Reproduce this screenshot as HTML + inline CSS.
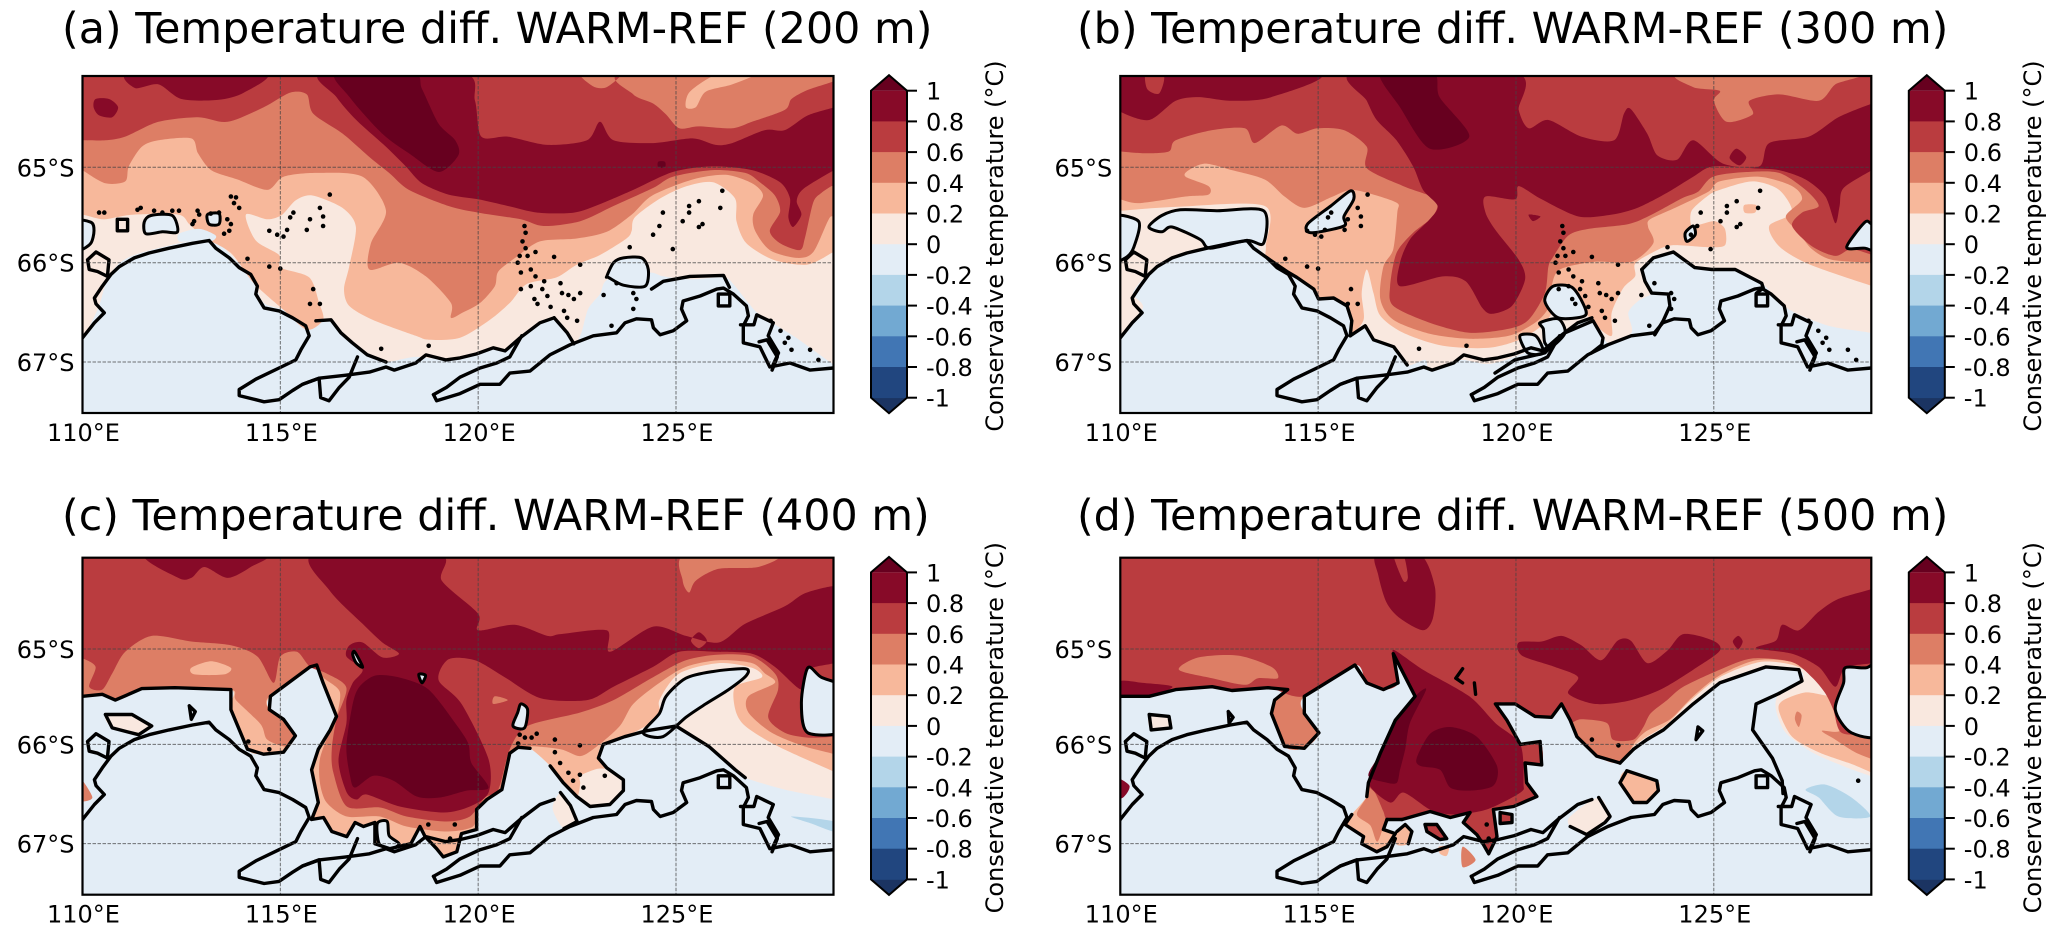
<!DOCTYPE html>
<html lang="en">
<head>
<meta charset="utf-8">
<title>Temperature difference WARM-REF</title>
<style>
html,body{margin:0;padding:0;background:#fff}
svg{display:block}
text{font-family:"DejaVu Sans","Liberation Sans",sans-serif;fill:#000}
.title{font-size:42.8px}
.tick{font-size:24px}
</style>
</head>
<body>
<svg id="fig" xmlns="http://www.w3.org/2000/svg" width="2067" height="937" viewBox="0 0 2067 937">
<rect width="2067" height="937" fill="#fff"/>
<g id="panel-a" transform="translate(0,0)"><text class="title" x="62" y="43">(a) Temperature diff. WARM-REF (200 m)</text></g>
<g id="panel-b" transform="translate(1037.8,0)"><text class="title" x="39.2" y="43">(b) Temperature diff. WARM-REF (300 m)</text></g>
<g id="panel-c" transform="translate(0,481.7)"><text class="title" x="62" y="48.3">(c) Temperature diff. WARM-REF (400 m)</text></g>
<g id="panel-d" transform="translate(1037.8,481.7)"><text class="title" x="39.2" y="48.3">(d) Temperature diff. WARM-REF (500 m)</text></g>
</svg>
<script>
// Axis tick values
const lonTicks = [110,115,120,125];
const latTicks = [65,66,67];
const cbTicks = [1,0.8,0.6,0.4,0.2,0,-0.2,-0.4,-0.6,-0.8,-1];
const cbLabels = ['1','0.8','0.6','0.4','0.2','0','-0.2','-0.4','-0.6','-0.8','-1'];
const cbColors = ['#870a28','#ba3c3f','#dd7e65','#f7b89b','#f9e8df','#e3edf6','#b3d5e9','#72a9d2','#4176b4','#21467f'];
const bandColors = {neg:'#b3d5e9',ge00:'#f9e8df',ge02:'#f7b89b',ge04:'#dd7e65',ge06:'#ba3c3f',ge08:'#870a28',ge10:'#67001f'};
const oceanBase = '#e3edf6';
const cbOverColor = '#67001f';
const cbUnderColor = '#1b3462';
const frameTop = [[129.2,63.9],[109.8,63.9]];

// Contour rings: [longitude E, latitude S]
const a_ge00 = [[[109.8,66.85],[110,66.78],[110.4,66.46],[110.67,66.14],[111.25,65.93],[113.08,65.76],[113.75,65.92],[114.33,66.21],[114.58,66.41],[115.08,66.48],[115.75,66.6],[115.9,66.59],[116.28,66.58],[116.53,66.71],[116.82,66.81],[117.2,66.93],[117.67,67],[118.42,66.95],[119.25,66.98],[119.96,66.92],[120.38,66.86],[120.68,66.89],[121.06,66.76],[121.56,66.61],[121.92,66.56],[122.25,66.71],[122.45,66.81],[122.61,66.71],[122.78,66.47],[123.08,66.32],[123.29,66.17],[124.3,66.1],[124.68,66.14],[125.35,66.17],[126.2,66.15],[126.45,66.22],[126.83,66.41],[127.12,66.53],[127.96,66.74],[128.39,66.86],[128.93,67.01],[129.2,67.05],...frameTop]];
const a_ge02 = [[[109.8,65.5],[110,65.5],[110.5,65.55],[110.84,65.53],[111.3,65.5],[112.42,65.5],[112.7,65.6],[113.08,65.74],[113.75,65.9],[114.33,66.21],[115.08,66.48],[115.67,66.68],[116.08,66.58],[115.98,66.41],[115.73,66.15],[115.01,66.05],[114.97,65.92],[114.38,65.77],[114.13,65.5],[114.68,65.55],[115.05,65.5],[115.39,65.35],[115.81,65.3],[116.57,65.43],[116.91,65.63],[116.74,66.04],[116.61,66.27],[116.74,66.44],[117.33,66.58],[118.42,66.74],[118.76,66.78],[119.54,66.76],[120.3,66.58],[120.8,66.41],[121.22,66.22],[121.98,66.15],[122.49,66.02],[123.08,65.92],[123.75,65.75],[123.88,65.67],[123.96,65.53],[124.6,65.33],[125.27,65.2],[125.94,65.16],[126.49,65.33],[126.53,65.57],[126.78,65.8],[127.46,65.97],[128.3,66.02],[128.93,65.9],[129.2,65.8],...frameTop]];
const a_ge04 = [[[109.8,64.95],[110,65.03],[110.58,65.17],[111.08,65.15],[111.17,64.99],[111.5,64.78],[111.92,64.71],[112.75,64.69],[112.92,64.85],[113.25,65.03],[113.92,65.13],[114.67,65.24],[115.08,65.1],[115.92,65.06],[117.08,65.1],[117.67,65.46],[117.29,65.8],[117.25,66.07],[118,66],[118.68,66.14],[119.31,66.41],[119.31,66.56],[119.6,66.51],[120.05,66.41],[120.42,66.24],[120.51,66.09],[120.97,65.94],[121.56,65.78],[122.49,65.75],[123.25,65.68],[123.88,65.5],[124.4,65.3],[125.42,65.13],[126.25,65.08],[126.92,65.17],[127.2,65.3],[126.95,65.5],[127,65.67],[127.37,65.87],[128.05,65.95],[128.47,65.89],[128.89,65.53],[129.2,65.45],...frameTop],[[127.08,63.97],[126.42,64.1],[125.75,64.18],[125.5,64.35],[125.25,64.35],[125.33,64.19],[125.83,64.03],[126.25,63.97]]];
const a_ge06 = [[[109.8,64.72],[110,64.71],[110.58,64.71],[111.08,64.67],[111.92,64.51],[112.92,64.46],[113.67,64.51],[114.58,64.35],[115.25,64.19],[115.67,64.21],[115.83,64.42],[116.58,64.64],[117.25,64.89],[117.75,65.06],[118.25,65.24],[119.25,65.41],[120,65.48],[121.08,65.55],[121.65,65.62],[122.58,65.57],[123.42,65.41],[124.42,65.22],[124.92,65.1],[125.92,65.03],[126.75,65.06],[127.12,65.16],[127.5,65.3],[127.63,65.47],[127.37,65.67],[127.63,65.8],[128.13,65.87],[128.26,65.74],[128.47,65.37],[128.68,65.27],[128.93,65.2],[129.2,65.15],...frameTop],[[122.58,63.97],[122.9,64.12],[123.25,64.13],[123.6,63.97]],[[123.75,63.97],[123.92,64.21],[124.42,64.31],[124.75,64.43],[125.08,64.58],[125.58,64.56],[126.42,64.58],[126.92,64.51],[127.75,64.38],[127.92,64.26],[128.33,64.16],[129,64.06],[129.1,63.97]]];
const a_ge08 = [[[111.25,63.97],[111.33,64.14],[111.92,64.1],[112.5,64.26],[113.42,64.27],[114.08,64.19],[114.58,63.97]],[[110.33,64.26],[110.67,64.26],[110.9,64.35],[110.75,64.46],[110.42,64.44],[110.28,64.35]],[[116.08,63.97],[116.42,64.24],[116.92,64.49],[117.67,64.78],[118.17,64.99],[118.58,65.17],[119.25,65.29],[120,65.34],[120.75,65.41],[121.5,65.48],[122.42,65.48],[123.08,65.39],[123.92,65.24],[124.92,65.05],[125.92,64.99],[126.92,65.03],[127.63,65.16],[127.88,65.33],[127.84,65.53],[127.96,65.63],[128.17,65.5],[128.05,65.36],[128.22,65.23],[129,65.03],[129.2,65],[129.2,64.3],[129,64.35],[128.33,64.44],[127.75,64.6],[127.25,64.6],[126.42,64.74],[126,64.76],[125.42,64.69],[124.42,64.74],[123.42,64.71],[123.08,64.51],[122.75,64.71],[121.75,64.76],[120.75,64.67],[120.08,64.67],[119.92,64.28],[119.58,63.97]]];
const a_ge10 = [[[116.42,63.97],[116.75,64.24],[117.58,64.64],[118.25,64.85],[119,65.05],[119.5,64.87],[119.42,64.71],[119,64.53],[118.58,64.15],[118.33,63.97]],[[124.55,64.94],[124.72,64.94],[124.72,65],[124.55,65]]];
const a_masks = [[[123.25,66.14],[123.42,66],[123.67,65.95],[124.13,65.95],[124.3,66.07],[124.22,66.24],[123.67,66.23],[123.29,66.15]],[[111.56,65.58],[111.73,65.51],[112.27,65.51],[112.4,65.68],[112.02,65.68],[111.6,65.7]],[[109.7,65.57],[110.21,65.58],[110.29,65.67],[110.21,65.8],[109.95,65.87],[109.7,65.87]],[[113.16,65.5],[113.45,65.49],[113.45,65.6],[113.2,65.6]]];
const a_fills = [[[112.44,65.7],[112.95,65.65],[113.37,65.72],[113.24,65.78],[112.7,65.78],[112.44,65.78]]];
const a_lines = [[[110.88,65.55],[111.14,65.55],[111.14,65.67],[110.88,65.67],[110.88,65.55]],[[124.38,66.27],[124.68,66.19],[125.35,66.14],[126.2,66.13],[126.35,66.25]],[[115.9,66.59],[116.28,66.58],[116.53,66.71],[116.82,66.81],[117.2,66.93],[117.67,67]],[[121.92,66.56],[122.25,66.71],[122.42,66.82]]];
const a_dashes = [];

const b_front = [[113.71,65.95],[114.25,66.1],[114.46,66.15],[114.89,66.27],[115.01,66.37],[115.39,66.36],[115.73,66.44],[115.85,66.59],[115.81,66.74]];
const b_ge00 = [[[109.8,66.85],[110,66.78],[110.57,66.46],[110.32,66.31],[110.73,66.11],[111.4,65.93],[113.15,65.76],...b_front,[116.19,66.64],[116.4,66.78],[116.91,66.85],[117.25,67.03],[117.71,66.98],[117.83,67.08],[118.59,66.98],[119.32,67.02],[120.15,66.92],[121.15,66.71],[121.98,66.58],[122.32,66.81],[122.92,66.71],[122.84,66.51],[123.09,66.39],[123.43,66.31],[123.26,66.19],[123.18,66.07],[123.47,65.95],[123.98,65.89],[124.52,66.05],[125.54,66.07],[126.21,66.21],[126.88,66.47],[127.9,66.64],[128.95,66.71],[129.2,66.75],...frameTop]];
const b_ge02 = [[[109.8,65.47],[110,65.46],[111.4,65.42],[113.65,65.41],[113.68,65.83],...b_front,[116.15,66.58],[116.1,66.31],[116.23,66.07],[116.4,66.31],[116.57,66.54],[117.15,66.71],[118.15,66.84],[119.32,66.86],[120.15,66.77],[120.73,66.61],[120.98,66.44],[120.95,66.24],[121.72,66.5],[122.05,66.65],[122.42,66.74],[122.42,66.51],[122.71,66.26],[123.01,66.14],[123.01,66.01],[123.43,65.9],[123.94,65.82],[124.86,65.84],[125.28,65.82],[125.28,65.65],[125.03,65.57],[124.69,65.6],[124.44,65.62],[124.44,65.46],[124.86,65.3],[125.15,65.24],[125.98,65.15],[126.65,65.24],[126.98,65.48],[126.4,65.62],[126.65,65.83],[127.32,66],[128.48,66.17],[129,66.24],[129.2,66.3],...frameTop],[[125.77,65.4],[126.07,65.4],[126.04,65.48],[125.78,65.48]]];
const b_ge04 = [[[109.8,65.3],[110,65.34],[110.48,65.38],[111.65,65.31],[112.23,65.29],[112.23,65.2],[111.65,65.1],[111.73,65.03],[112.15,64.96],[112.82,65.03],[113.65,65.13],[114.15,65.31],[114.65,65.43],[115.32,65.32],[115.82,65.24],[116.4,65.29],[117,65.38],[117,65.48],[116.9,65.86],[116.65,66.04],[116.57,66.37],[116.9,66.58],[117.82,66.72],[118.82,66.77],[119.82,66.74],[120.48,66.61],[120.82,66.46],[120.9,66.24],[121.11,66.07],[121.99,65.99],[122.92,65.99],[123.47,65.8],[123.34,65.63],[123.39,65.55],[124.02,65.43],[124.86,65.26],[125.15,65.15],[126.15,65.1],[126.98,65.2],[127.23,65.34],[126.82,65.52],[127.15,65.69],[127.48,65.86],[127.98,65.97],[129,66],[129.2,66],...frameTop]];
const b_ge06 = [[[109.8,64.81],[110,64.83],[110.65,64.85],[111.23,64.83],[111.4,64.71],[112.32,64.6],[113.15,64.58],[113.4,64.74],[114.07,64.55],[114.48,64.64],[114.98,64.58],[115.65,64.6],[116.23,64.78],[116.23,65.01],[117.15,65.2],[117.98,65.34],[117.9,65.52],[117.4,65.69],[116.98,65.9],[116.82,66.24],[116.9,66.44],[117.82,66.61],[118.82,66.71],[119.82,66.67],[120.32,66.58],[120.73,66.31],[120.82,66.04],[120.94,65.94],[121.32,65.72],[121.83,65.65],[122.84,65.6],[123.43,65.5],[124.19,65.33],[124.6,65.26],[124.98,65.1],[125.82,65.05],[126.65,65.06],[127.32,65.24],[127.65,65.41],[127.23,65.48],[126.98,65.62],[127.48,65.83],[128.07,65.93],[128.48,65.86],[129.1,65.93],[129.2,65.9],...frameTop],[[124.23,63.97],[124.48,64.13],[125.15,64.17],[125,64.28],[125.32,64.51],[125.98,64.43],[125.9,64.28],[126.65,64.21],[127.65,64.28],[128.07,64.1],[128.65,63.97]],[[120.32,65.5],[120.62,65.52],[120.43,65.57]]];
const b_ge08 = [[[109.8,64.3],[110,64.4],[110.73,64.49],[111.4,64.28],[111.98,64.24],[112.82,64.28],[113.82,64.24],[114.98,63.97],[109.8,63.9]],[[110.65,63.97],[110.68,64.15],[110.98,64.2],[111.1,64]],[[115.9,63.97],[116.23,64.28],[116.48,64.49],[116.98,64.71],[117.4,64.99],[117.65,65.24],[118.02,65.41],[117.82,65.55],[117.32,65.76],[117.07,66],[117.07,66.24],[118.15,66.14],[118.73,66.19],[119.15,66.46],[119.4,66.52],[119.9,66.44],[120.23,66.17],[120.07,65.97],[119.48,65.66],[119.23,65.48],[119.23,65.31],[119.98,65.34],[120.07,65.2],[120.65,65.34],[121.58,65.52],[122.42,65.5],[123.07,65.43],[123.82,65.27],[124.48,65.1],[124.98,64.99],[125.98,65.01],[126.65,65.03],[127.32,65.13],[127.82,65.31],[128.07,65.59],[128.18,65.41],[128.28,65.22],[129,65.03],[129.2,65],[129.2,64.3],[129,64.31],[128.15,64.46],[127.4,64.67],[126.4,64.74],[126.15,64.99],[125.23,64.96],[124.48,64.71],[124.07,64.92],[123.57,64.87],[123.32,64.64],[122.9,64.37],[122.73,64.42],[122.48,64.71],[121.65,64.67],[120.82,64.49],[120.32,64.58],[120.07,64.38],[119.98,63.97]],[[125.57,64.8],[125.82,64.89],[125.65,64.98],[125.4,64.9]],[[120.32,65.5],[120.62,65.52],[120.43,65.57]]];
const b_ge10 = [[[116.57,63.97],[117.07,64.35],[117.82,64.8],[118.82,64.67],[118.07,64.24],[117.9,63.97]]];
const b_masks = [[[120.94,66.24],[121.41,66.25],[121.7,66.42],[121.74,66.54],[121.07,66.56],[120.73,66.39]],[[120.61,66.61],[121.07,66.57],[121.24,66.71],[120.9,66.85],[120.73,66.81],[120.69,66.67]],[[120.1,66.74],[120.5,66.74],[120.69,66.91],[120.3,66.91]],[[115.82,65.25],[115.9,65.34],[115.65,65.52],[115.65,65.62],[114.82,65.69],[114.73,65.6],[115.32,65.41]],[[110.72,65.63],[111.05,65.51],[111.52,65.45],[112.44,65.46],[113.62,65.46],[113.62,65.8],[113.2,65.77],[112.27,65.85],[112.02,65.76],[111.31,65.63],[111.05,65.68]],[[109.7,65.53],[110.46,65.57],[110.34,65.84],[110.13,65.95],[109.7,65.99]],[[128.36,65.84],[128.82,65.58],[129,65.6],[129.3,65.6],[129.3,65.9],[128.82,65.85]],[[124.48,65.62],[124.53,65.71],[124.32,65.78],[124.28,65.69]]];
const b_fills = [];
const b_lines = [b_front,[[123.18,66.07],[123.47,65.95],[123.98,65.89],[124.52,66.05],[124.95,66.07],[125.54,66.07],[126.21,66.21],[126.25,66.26],[126.08,66.31]],[[123.18,66.07],[123.26,66.19],[123.43,66.31],[123.85,66.32],[123.89,66.44],[123.72,66.59],[123.51,66.73]],[[119.47,67.11],[119.97,66.98],[120.73,66.91],[121.24,66.71],[121.95,66.59],[122.2,66.76],[122.17,66.83],[121.91,66.91]],[[115.81,66.74],[116.19,66.64],[116.4,66.78],[116.91,66.85],[117.25,67.03]]];
const b_dashes = [];

const c_frontWest = [[110,65.5],[110.5,65.48],[110.83,65.54],[111.5,65.42],[112.33,65.41],[113.75,65.43],[113.75,65.64],[114.17,66.05],[114.58,66.1],[115.08,66.08],[115.38,65.91],[115.08,65.74],[114.72,65.64],[114.75,65.5],[115.75,65.19],[115.92,65.17],[116.08,65.36],[116.42,65.71],[116.26,65.85],[115.96,66.05],[115.79,66.26],[115.96,66.59],[115.79,66.76],[116.09,66.74],[116.3,66.88],[116.68,66.93],[116.89,66.79],[117.1,66.83],[117.39,66.79],[117.39,67],[117.77,67.05],[118.3,67],[118.53,66.83],[118.66,66.93],[118.95,67.05],[119.12,67.13],[119.46,67.08],[119.58,66.9],[119.96,66.86],[119.96,66.66],[120.22,66.56],[120.6,66.46],[120.8,66.09],[121.01,66.03],[121.31,66.04]];
const c_frontEast = [[121.82,66.22],[122.15,66.39],[122.49,66.53],[122.83,66.63],[123.33,66.61],[123.67,66.47],[123.67,66.36],[123.25,66.24],[123.04,66.14],[123.16,66],[123.7,65.92],[124.25,65.86],[125,65.81],[125.83,66.02],[126.5,66.26],[126.75,66.34]];
const c_ge00 = [[[109.8,65.55],...c_frontWest,...c_frontEast,[127.75,66.46],[129,66.56],[129.2,66.6],...frameTop],[[110.58,65.69],[111.25,65.69],[111.75,65.81],[111.42,65.9],[110.75,65.83]],[[122.08,66.49],[122.33,66.62],[122.5,66.78],[122.17,66.85],[121.88,66.65]]];
const c_ge02 = [[[109.8,65.55],...c_frontWest,[121.82,66.22],[122.15,66.39],[122.49,66.53],[122.58,66.4],[122.58,66.32],[123,66.25],[123.25,66.24],[123.04,66.14],[123.16,66],[123.92,65.88],[124.58,65.71],[124.58,65.54],[125.08,65.26],[126.08,65.15],[126.92,65.2],[127.17,65.3],[126.5,65.4],[126.5,65.64],[126.75,65.81],[127.58,66.02],[129,66.28],[129.2,66.32],...frameTop]];
const c_ge04 = [[[109.8,65.55],[110,65.5],[110.5,65.48],[110.83,65.54],[111.5,65.42],[112.33,65.41],[113.75,65.43],[113.88,65.54],[114.5,65.79],[114.67,65.95],[115.17,66.02],[115.33,65.88],[115.08,65.74],[114.72,65.64],[114.72,65.5],[115.75,65.19],[115.92,65.17],[116.08,65.3],[116.5,65.45],[116.42,65.71],[116.26,65.85],[116,66.15],[116,66.39],[116.17,66.59],[116.68,66.73],[117.52,66.73],[118.19,66.83],[119.2,66.88],[119.87,66.83],[119.96,66.66],[120.17,66.56],[120.6,66.46],[120.8,66.09],[121.25,66.02],[122.08,66.05],[122.58,66.12],[123,66.02],[123.58,65.81],[123.92,65.58],[124.58,65.36],[125.25,65.19],[126.08,65.12],[126.92,65.15],[127.25,65.26],[127.5,65.36],[126.83,65.5],[126.83,65.67],[127.42,65.88],[128.25,66.02],[129,66.1],[129.2,66.15],...frameTop],[[112.75,65.2],[113.25,65.13],[113.75,65.2],[113.58,65.27],[112.83,65.27]],[[109.8,66.28],[110.25,66.54],[109.8,66.56]]];
const c_ge06 = [[[109.8,65.1],[110,65.1],[110.33,65.19],[110.17,65.4],[110.5,65.43],[110.75,65.26],[111.08,65.03],[111.75,64.86],[112.75,64.92],[113.75,64.96],[114.42,65.08],[114.83,65.36],[115,65.08],[115.42,65.03],[115.75,65.19],[116.17,65.26],[116.67,65.41],[116.42,65.74],[116.3,66.05],[116.34,66.29],[116.68,66.63],[117.52,66.64],[118.19,66.73],[119.2,66.78],[119.79,66.73],[120.17,66.54],[120.51,66.46],[120.8,66.05],[121.25,65.81],[122.58,65.67],[123.42,65.54],[124.42,65.3],[125.25,65.12],[126.08,65.06],[126.92,65.08],[127.5,65.26],[127.58,65.43],[127.33,65.72],[127.75,65.88],[128.33,65.93],[129,65.92],[129.2,65.9],...frameTop],[[125.25,63.97],[125.17,64.26],[125.33,64.39],[125.5,64.26],[126.08,64.13],[127.08,64.11],[127.58,63.97]],[[120.42,65.5],[120.75,65.54],[120.38,65.58]]];
const c_ge08 = [[[111.62,63.97],[112.42,64.23],[112.75,64.23],[113.08,64.11],[113.67,64.23],[114.25,64.11],[114.58,63.97]],[[115.83,63.97],[116.25,64.37],[117.08,64.73],[117.58,64.93],[118,65.05],[117.58,65.09],[117.08,64.93],[116.75,64.96],[116.67,65.08],[117.08,65.22],[116.83,65.36],[116.67,65.54],[116.67,65.78],[116.47,66.17],[116.68,66.49],[116.93,66.56],[117.18,66.51],[118.02,66.63],[119.12,66.69],[119.79,66.63],[120.26,66.49],[120.26,66.15],[119.58,65.58],[119,65.33],[119.25,65.11],[119.92,65.12],[120.67,65.3],[121.58,65.52],[122.75,65.54],[123.42,65.4],[124.42,65.19],[125.08,65.03],[126,65.03],[126.92,65.05],[127.5,65.19],[128.17,65.43],[128.33,65.22],[129,65.15],[129.2,65.1],[129.2,64.4],[129,64.32],[128.25,64.4],[127.75,64.54],[126.75,64.73],[126.08,64.93],[125.25,64.86],[124.42,64.76],[123.33,65.03],[123.25,64.8],[122.08,64.84],[121.75,64.86],[120.92,64.74],[120,64.8],[120,64.62],[119.08,64.26],[119,63.97]],[[125.58,64.82],[125.78,64.91],[125.58,64.99],[125.38,64.91]]];
const c_ge10 = [[[117.42,65.28],[118.08,65.31],[118.75,65.43],[119.42,65.78],[119.75,65.99],[119.83,66.19],[120.26,66.44],[119.71,66.47],[119.03,66.54],[118.45,66.53],[117.86,66.37],[117.35,66.32],[116.89,66.44],[116.76,66.32],[116.67,66.02],[116.83,65.58],[117,65.4]]];
const c_neg = [[[127.92,66.73],[129,66.78],[129,66.88],[128.42,66.8]]];
const c_masks = [[[116.88,65.03],[117.08,65.19],[116.92,65.15],[116.83,65.06]],[[118.5,65.27],[118.67,65.28],[118.58,65.36]],[[121.08,65.58],[121.25,65.64],[121.17,65.83],[120.88,65.81],[121,65.67]],[[128.33,65.2],[128.67,65.3],[129.3,65.43],[129.3,65.85],[128.33,65.88],[128.17,65.57]],[[126.75,65.21],[126.78,65.28],[126.33,65.43],[125.75,65.58],[125.25,65.72],[124.67,65.92],[124.17,65.88],[124.58,65.68],[124.75,65.5],[125.25,65.31],[125.92,65.24]],[[117.45,66.8],[117.7,66.78],[117.75,66.92],[118,67],[117.8,67.05],[117.5,67]]];
const c_fills = [];
const c_lines = [c_frontWest,c_frontEast,[[110.58,65.69],[111.25,65.69],[111.75,65.81],[111.42,65.9],[110.75,65.83],[110.58,65.69]],[[122.08,66.49],[122.33,66.62],[122.5,66.78],[122.17,66.85]],[[112.7,65.6],[112.85,65.66],[112.75,65.74],[112.7,65.6]]];
const c_dashes = [];

const d_frontWest = [[110,65.5],[110.73,65.5],[111.4,65.43],[112.32,65.4],[112.82,65.44],[113.73,65.41],[114.23,65.43],[113.9,65.54],[113.82,65.68],[114.15,66.02],[114.65,66.04],[115.02,65.88],[114.65,65.68],[114.65,65.5],[115.93,65.17],[116.23,65.36],[116.65,65.43],[117.02,65.36],[116.9,65.05],[117.45,65.5],[116.95,65.75],[116.57,66.09],[116.27,66.39],[116.23,66.53]];
const d_frontBottom = [[115.85,66.71],[115.68,66.81],[116.15,66.93],[116.1,67],[116.48,67.08],[116.74,67.03],[116.95,66.9],[116.65,66.86],[116.74,66.76]];
const d_frontMid = [[117.12,66.76],[117.83,66.68],[118.34,66.74],[118.84,66.69],[118.67,66.79],[119.01,66.91],[119.18,67.01],[119.31,67.1],[119.52,66.93],[119.43,66.66],[119.94,66.63],[120.53,66.53],[120.27,66.39],[120.23,66.19],[120.65,66.21],[120.61,65.97],[120.11,66],[119.77,65.75],[119.48,65.58],[119.98,65.58],[120.48,65.71],[120.9,65.72],[121.15,65.58],[121.37,65.75],[121.54,65.92],[122.04,66.12],[122.63,66.19]];
const d_frontEast = [[122.97,66.05],[123.31,65.95],[123.73,65.85],[124.48,65.58],[125.15,65.36],[126.32,65.19],[127.15,65.22],[127.23,65.34],[126.65,65.47]];
const d_ge00 = [[[109.8,65.5],...d_frontWest,...d_frontBottom,...d_frontMid,...d_frontEast,[126.57,65.64],[126.82,65.88],[127.48,66.08],[128.32,66.23],[129,66.33],[129.2,66.38],...frameTop],[[110.73,65.69],[111.23,65.71],[111.28,65.83],[110.78,65.85]],[[122.09,66.54],[122.38,66.73],[122.25,66.79],[121.79,66.91],[121.37,66.83],[121.37,66.73]]];
const d_ge02 = [[[109.8,65.5],...d_frontWest,...d_frontBottom,...d_frontMid,[122.97,66.02],[123.31,65.92],[123.82,65.79],[124.4,65.55],[125.15,65.3],[126.15,65.14],[127,65.17],[127.57,65.3],[127.95,65.49],[127.32,65.46],[126.73,65.55],[126.65,65.66],[126.98,65.92],[127.65,66.08],[128.48,66.2],[129,66.29],[129.2,66.32],...frameTop],[[122.8,66.27],[123.56,66.37],[123.6,66.47],[123.31,66.59],[122.97,66.59],[122.63,66.39]],[[116.99,66.88],[117.2,66.81],[117.37,66.88],[117.28,67],[116.99,67.01]],[[118.05,67.03],[118.3,67.03],[118.25,67.12],[118.08,67.1]]];
const d_ge04 = [[[109.8,65.5],...d_frontWest,[115.98,66.71],[116.32,66.82],[116.5,66.98],[116.74,66.76],...d_frontMid,[123,65.98],[123.31,65.86],[123.9,65.74],[124.48,65.5],[125.15,65.28],[126.07,65.12],[127,65.14],[127.57,65.3],[127.82,65.47],[128.02,65.64],[128.18,65.86],[127.73,65.86],[128.07,65.95],[128.57,66.08],[129,66.15],[129.2,66.18],...frameTop],[[118.65,67.03],[118.98,67.16],[118.65,67.23]],[[127.1,65.66],[127.22,65.7],[127.15,65.82],[127.05,65.74]]];
const d_ge06 = [[[109.8,65.5],[110,65.5],[110.73,65.5],[111.4,65.43],[112.32,65.4],[112.82,65.44],[113.73,65.41],[114.65,65.5],[115.93,65.17],[116.23,65.36],[116.65,65.43],[117.02,65.36],[116.9,65.05],[117.45,65.5],[116.95,65.75],[116.57,66.09],[116.27,66.39],[116.45,66.5],[116.65,66.68],[116.74,66.76],...d_frontMid.slice(0,-3),[121.4,65.78],[121.65,65.74],[122.3,65.78],[122.45,65.95],[122.97,65.95],[123.22,65.82],[123.4,65.68],[123.82,65.54],[124.23,65.4],[125.15,65.22],[125.98,65.1],[126.98,65.14],[127.48,65.3],[127.82,65.47],[128.02,65.64],[128.23,65.88],[129,65.9],[129.2,65.9],...frameTop],[[111.48,65.22],[111.98,65.09],[112.98,65.07],[113.82,65.19],[113.98,65.31],[113.48,65.31],[113.15,65.38],[112.32,65.31]],[[117.7,66.81],[118,66.81],[118.25,66.95],[118.08,66.96],[117.75,66.88]],[[119.6,66.69],[119.9,66.71],[119.9,66.79],[119.6,66.8]]];
const d_ge08 = [[[109.8,65.47],[110,65.34],[110.57,65.36],[111.32,65.4],[110.73,65.5],[110,65.5],[109.8,65.5]],[[116.48,63.97],[116.52,64.2],[116.73,64.5],[117.07,64.67],[117.65,64.8],[117.9,64.67],[117.95,64.33],[117.57,63.97]],[[116.9,63.97],[117.15,64.26],[117.27,64.22],[117.15,63.97]],[[116.9,65.01],[117.65,65.22],[118.82,65.5],[119.48,65.78],[120.11,66],[120.19,66.39],[120.11,66.49],[119.26,66.66],[118.42,66.71],[117.83,66.66],[117.16,66.49],[116.82,66.59],[116.27,66.39],[116.57,66.09],[116.95,65.75],[117.45,65.5],[117.07,65.22]],[[120.07,64.93],[120.65,64.92],[121.15,64.86],[121.65,64.96],[122.15,65.12],[122.57,64.91],[122.9,64.91],[123.32,65.15],[123.82,65.02],[124.23,64.84],[124.98,64.91],[125.15,65.02],[124.48,65.22],[123.65,65.43],[122.82,65.55],[121.98,65.58],[121.32,65.47],[121.57,65.3],[120.98,65.19],[120.15,65.07]],[[126.07,64.99],[126.98,65.05],[127.65,65.19],[128.07,65.4],[128.32,65.2],[129,65.15],[129.2,65.1],[129.2,64.3],[129,64.35],[128.15,64.46],[127.65,64.6],[127.15,64.8],[126.73,64.74],[126.57,64.91]],[[125.62,64.86],[125.73,64.92],[125.62,65],[125.48,64.92]],[[109.8,66.33],[110.23,66.42],[110.07,66.54],[109.8,66.54]]];
const d_ge10 = [[[117.49,66.14],[117.83,65.89],[118.34,65.82],[119.01,65.92],[119.52,66.22],[119.43,66.42],[118.84,66.47],[118.34,66.44],[118.08,66.26],[117.58,66.22]],[[117.73,65.43],[117.32,65.78],[117.2,66.05],[117.07,66.26],[116.99,66.39],[116.74,66.39],[116.27,66.32],[116.57,66.09],[116.95,65.75],[117.45,65.5]]];
const d_neg = [[[127.32,66.46],[127.82,66.41],[128.48,66.54],[128.95,66.73],[128.15,66.73],[127.65,66.54]]];
const d_masks = [[[128.32,65.2],[128.85,65.2],[129.3,65.15],[129.3,65.88],[128.48,65.88],[128.07,65.64],[128.28,65.36]]];
const d_fills = [];
const d_lines = [d_frontWest,d_frontBottom,d_frontMid,d_frontEast,[[116.74,66.76],[117.12,66.76]],[[122.63,66.19],[122.97,66.05]],[[126.65,65.47],[126.07,65.58],[125.98,65.85],[126.48,66.14],[126.73,66.37],[126.75,66.5]],[[110.73,65.69],[111.23,65.71],[111.28,65.83],[110.78,65.85],[110.73,65.69]],[[122.8,66.27],[123.56,66.37],[123.6,66.47],[123.31,66.59],[122.97,66.59],[122.63,66.39],[122.8,66.27]],[[122.09,66.54],[122.38,66.73],[122.25,66.79],[121.79,66.91],[121.37,66.83]],[[117.7,66.81],[118,66.81],[118.25,66.95],[118.08,66.96],[117.75,66.88],[117.7,66.81]],[[119.6,66.69],[119.9,66.71],[119.9,66.79],[119.6,66.8],[119.6,66.69]],[[116.99,66.88],[117.2,66.81],[117.37,66.88],[117.28,67]],[[118.65,65.21],[118.48,65.31],[118.65,65.36]],[[118.95,65.36],[118.98,65.48]],[[112.73,65.66],[112.85,65.72],[112.75,65.78],[112.73,65.66]],[[124.6,65.82],[124.72,65.86],[124.55,65.95],[124.6,65.82]]];
const d_dashes = [];

// Coast and ice-shelf outlines shared by all panels
const coastOutlines = [
[[109.9,66.8],[110,66.76],[110.3,66.61],[110.55,66.51],[110.34,66.42],[110.3,66.36],[110.5,66.24],[110.72,66.12],[110.93,66.04],[111.31,65.95],[111.68,65.9],[112.19,65.85],[112.78,65.8],[113.2,65.77],[113.37,65.85],[113.71,65.95],[113.96,66.05],[114.25,66.12],[114.42,66.24],[114.38,66.32],[114.59,66.46],[114.97,66.49],[115.31,66.56],[115.64,66.64],[115.73,66.74],[115.52,66.88],[115.39,66.98],[114.97,67.06],[114.38,67.17],[113.96,67.27],[113.96,67.33],[114.38,67.37],[114.59,67.39],[114.97,67.37],[115.31,67.28],[115.56,67.22],[115.98,67.16],[116.02,67.35],[116.23,67.38],[116.49,67.25],[116.74,67.15],[116.95,66.95]],
[[115.56,67.22],[115.98,67.16],[116.66,67.13],[117.25,67.1],[117.67,67.05],[117.88,67.08],[118.42,67.01],[118.68,66.93],[119.18,66.98],[119.54,66.96],[119.96,66.92],[120.38,66.86],[120.68,66.89],[121.06,66.76],[121.56,66.61],[121.92,66.56]],
[[118.87,67.32],[118.95,67.38],[119.54,67.31],[120.05,67.22],[120.55,67.22],[120.8,67.11],[121.31,67.09],[121.81,66.93],[122.32,66.83],[122.91,66.74],[123.5,66.71],[123.71,66.61],[124,66.57],[124.38,66.58],[124.43,66.66],[124.6,66.73],[124.93,66.69],[125.27,66.59],[125.14,66.47],[125.18,66.39],[125.61,66.34],[126.03,66.27],[126.2,66.26],[126.45,66.32],[126.78,66.44],[126.83,66.54],[126.7,66.64],[126.7,66.81],[127.12,66.85],[127.37,67.05],[127.88,67.01],[128.39,67.08],[128.98,67.06]],
[[118.87,67.32],[119.2,67.25],[119.54,67.15],[120.05,67.06],[120.47,67.01],[120.8,66.95],[121.1,66.74]],
[[110.13,65.97],[110.34,65.89],[110.67,65.97],[110.63,66.14],[110.38,66.09],[110.17,66.07],[110.13,65.97]],
[[126.07,66.32],[126.36,66.32],[126.36,66.44],[126.07,66.44],[126.07,66.32]],
[[126.63,66.63],[126.97,66.63],[127.04,66.53],[127.46,66.61],[127.33,66.74],[127.59,66.91],[127.43,67.05]],
[[127.1,66.8],[127.3,66.78],[127.56,66.95],[127.43,67.08]]
];

// Small ice-island dots, [longitude E, latitude S]
const dotsCentral = [[121.17,65.62],[121.2,65.69],[121.12,65.78],[121.2,65.85],[121.05,65.93],[121.25,65.93],[121.45,65.89],[121,66],[121.08,66.1],[121.33,66.07],[121.45,66.14],[121.67,66.19],[121.08,66.27],[121.33,66.24],[121.62,66.27],[121.42,66.37],[121.75,66.34],[122.08,66.21],[122.12,66.31],[122.28,66.33],[122.58,66.31],[122.42,66.37],[121.5,66.42],[121.83,66.45],[122.17,66.49],[122.25,66.56],[122.5,66.59],[121.92,65.94],[122.58,66.02]];
const dotsNE = [[126.17,65.25],[126.12,65.43],[125.58,65.36],[125.33,65.41],[125.33,65.48],[124.67,65.48],[125.17,65.57],[125.67,65.6],[125.58,65.63],[124.58,65.62],[124.42,65.71],[123.83,65.84],[124.92,65.86]];
const dotsWest = [[116.25,65.29],[116,65.43],[116.08,65.52],[115.75,65.55],[116.08,65.62],[115.67,65.66],[115.33,65.48],[115.25,65.53],[114.72,65.67],[115.17,65.66],[114.92,65.71],[115.08,65.73],[114.17,65.96],[114.72,66.04],[115,66.06],[115.83,66.27],[115.75,66.42],[116,66.42],[118.75,66.84],[117.55,66.87]];
const dotsSouth = [[123.17,66.33],[123.5,66.21],[123.92,66.31],[124,66.37],[123.92,66.47],[123.37,66.64]];
const dotsEast = [[127.84,66.76],[127.75,66.81],[127.92,66.88],[128.39,66.88],[128.6,66.98],[127.39,66.59],[127.64,66.69]];
const dotsFrontA = [[110.42,65.48],[110.55,65.48],[111.39,65.45],[111.47,65.43],[111.81,65.46],[112.02,65.48],[112.27,65.46],[112.44,65.46],[112.91,65.46],[112.95,65.5],[113.24,65.49],[113.45,65.48],[113.75,65.31],[113.88,65.32],[113.83,65.38],[113.96,65.43],[113.66,65.55],[113.75,65.6],[113.71,65.67],[113.58,65.7],[112.82,65.57],[112.78,65.6]];
const dotsC = [[121.01,65.99],[121.05,65.9],[121.18,65.93],[121.35,65.93],[121.48,65.89],[121.94,65.95],[122.57,66.01],[121.94,66.08],[122.07,66.19],[122.28,66.29],[122.57,66.31],[123.2,66.32],[122.4,66.37],[122.66,66.44],[114.19,65.97],[114.72,66.05],[118.74,66.81],[119.41,66.81],[119.29,66.95]];
const dotsD = [[121.92,65.95],[122.59,66.01],[119.26,66.81],[119.31,66.95],[128.65,66.37]];

// Layout of the four small multiples
const panelLayout = [
  {id:'a',left:82.5,top:76,w:751,h:337,y65:167.3,cbTop:90.7,cbStep:30.7,
   neg:[],ge00:a_ge00,ge02:a_ge02,ge04:a_ge04,ge06:a_ge06,ge08:a_ge08,ge10:a_ge10,masks:a_masks,fills:a_fills,lines:a_lines,dashes:a_dashes,dots:dotsCentral.concat(dotsNE,dotsWest,dotsSouth,dotsEast,dotsFrontA)},
  {id:'b',left:82.5,top:76,w:751,h:337,y65:167.3,cbTop:90.7,cbStep:30.7,
   neg:[],ge00:b_ge00,ge02:b_ge02,ge04:b_ge04,ge06:b_ge06,ge08:b_ge08,ge10:b_ge10,masks:b_masks,fills:b_fills,lines:b_lines,dashes:b_dashes,dots:dotsCentral.concat(dotsNE,dotsWest,dotsSouth,dotsEast)},
  {id:'c',left:82.5,top:76,w:751,h:337,y65:167.3,cbTop:90.7,cbStep:30.7,
   neg:c_neg,ge00:c_ge00,ge02:c_ge02,ge04:c_ge04,ge06:c_ge06,ge08:c_ge08,ge10:c_ge10,masks:c_masks,fills:c_fills,lines:c_lines,dashes:c_dashes,dots:dotsC},
  {id:'d',left:82.5,top:76,w:751,h:337,y65:167.3,cbTop:90.7,cbStep:30.7,
   neg:d_neg,ge00:d_ge00,ge02:d_ge02,ge04:d_ge04,ge06:d_ge06,ge08:d_ge08,ge10:d_ge10,masks:d_masks,fills:d_fills,lines:d_lines,dashes:d_dashes,dots:dotsD}
];

const NS = 'http://www.w3.org/2000/svg';
const PX_PER_RAD = 2267;
function merc(latS){ const r = latS*Math.PI/180; return Math.log(Math.tan(Math.PI/4 + r/2)); }
function xAxis(p,lon){ return p.left + (lon-110)*PX_PER_RAD*Math.PI/180; }
function yAxis(p,latS){ return p.y65 + PX_PER_RAD*(merc(latS)-merc(65)); }
function mk(parent,tag,attrs){
  const el = document.createElementNS(NS,tag);
  for(const k in attrs) el.setAttribute(k,attrs[k]);
  parent.appendChild(el);
  return el;
}
function smoothRing(p,ring){
  const pts = ring.map(q=>[xAxis(p,q[0]),yAxis(p,q[1])]);
  const n = pts.length, t = 0.14;
  let d = 'M'+pts[0][0].toFixed(1)+' '+pts[0][1].toFixed(1);
  for(let i=0;i<n;i++){
    const a=pts[(i-1+n)%n], b=pts[i], c=pts[(i+1)%n], e=pts[(i+2)%n];
    d += 'C'+(b[0]+(c[0]-a[0])*t).toFixed(1)+' '+(b[1]+(c[1]-a[1])*t).toFixed(1)+' '
        +(c[0]-(e[0]-b[0])*t).toFixed(1)+' '+(c[1]-(e[1]-b[1])*t).toFixed(1)+' '
        +c[0].toFixed(1)+' '+c[1].toFixed(1);
  }
  return d+'Z';
}
function polyline(p,line){
  return line.map((q,i)=>(i?'L':'M')+xAxis(p,q[0]).toFixed(1)+' '+yAxis(p,q[1]).toFixed(1)).join('');
}

panelLayout.forEach(p=>{
  const g = document.getElementById('panel-'+p.id);
  const defs = mk(g,'defs',{});
  const cp = mk(defs,'clipPath',{id:'clip-'+p.id});
  mk(cp,'rect',{x:p.left,y:p.top,width:p.w,height:p.h});

  const map = mk(g,'g',{'clip-path':'url(#clip-'+p.id+')'});
  
  

  const bg = mk(map,'rect',{x:p.left,y:p.top,width:p.w,height:p.h,fill:oceanBase});
  
  

  ['neg','ge00','ge02','ge04','ge06','ge08','ge10'].forEach(level=>{
    if(!p[level].length) return;
    const band = mk(map,'path',{d:p[level].map(r=>smoothRing(p,r)).join(''),fill:bandColors[level],'fill-rule':'evenodd'});
    
    
  });

  p.fills.forEach(r=>{
    const m = mk(map,'path',{d:smoothRing(p,r),fill:oceanBase});
    
    
  });
  p.masks.forEach(r=>{
    const m = mk(map,'path',{d:smoothRing(p,r),fill:oceanBase,stroke:'#000','stroke-width':3,'stroke-linejoin':'round'});
    
    
  });

  coastOutlines.concat(p.lines).forEach(l=>{
    const c = mk(map,'path',{d:polyline(p,l),fill:'none',stroke:'#000','stroke-width':3.4,'stroke-linejoin':'round','stroke-linecap':'round'});
    
    
  });
  p.dashes.forEach(l=>{
    const c = mk(map,'path',{d:polyline(p,l),fill:'none',stroke:'#000','stroke-width':3,'stroke-dasharray':'9 5'});
    
    
  });
  p.dots.forEach(q=>{
    const c = mk(map,'circle',{cx:xAxis(p,q[0]).toFixed(1),cy:yAxis(p,q[1]).toFixed(1),r:2.3,fill:'#000'});
    
    
  });

  lonTicks.forEach(lon=>{
    const x = xAxis(p,lon);
    if(lon>110){
      const gl = mk(map,'line',{x1:x,x2:x,y1:p.top,y2:p.top+p.h,stroke:'#444','stroke-width':1,'stroke-dasharray':'3.5 1.5','stroke-opacity':0.75});
      
      
    }
    const t = mk(g,'text',{class:'tick',x:x+1,y:p.top+p.h+28,'text-anchor':'middle'});
    
    
    t.textContent = lon+'°E';
  });
  latTicks.forEach(lat=>{
    const y = yAxis(p,lat);
    const gl = mk(map,'line',{x1:p.left,x2:p.left+p.w,y1:y,y2:y,stroke:'#444','stroke-width':1,'stroke-dasharray':'3.5 1.5','stroke-opacity':0.75});
    
    
    const t = mk(g,'text',{class:'tick',x:p.left-8,y:y+9,'text-anchor':'end'});
    
    
    t.textContent = lat+'°S';
  });

  const frame = mk(g,'rect',{x:p.left,y:p.top,width:p.w,height:p.h,fill:'none',stroke:'#000','stroke-width':2.2});
  
  

  // Colorbar
  const cbL = 871, cbR = 907, cbT = p.cbTop, st = p.cbStep, cbB = cbT + st*(cbTicks.length-1);
  const cbYOf = v => cbT + (1-v)/0.2*st;
  const cb = mk(g,'g',{});
  
  
  const over = mk(cb,'path',{d:'M'+cbL+' '+cbT+'L'+(cbL+cbR)/2+' '+(cbT-15.5)+'L'+cbR+' '+cbT+'Z',fill:cbOverColor});
  
  
  const under = mk(cb,'path',{d:'M'+cbL+' '+cbB+'L'+(cbL+cbR)/2+' '+(cbB+15.5)+'L'+cbR+' '+cbB+'Z',fill:cbUnderColor});
  
  
  cbColors.forEach((col,i)=>{
    const y0 = cbYOf(cbTicks[i]), y1 = cbYOf(cbTicks[i+1]);
    const r = mk(cb,'rect',{x:cbL,y:y0,width:cbR-cbL,height:y1-y0+0.4,fill:col});
    
    
  });
  const outline = mk(cb,'path',{d:'M'+cbL+' '+cbT+'L'+(cbL+cbR)/2+' '+(cbT-15.5)+'L'+cbR+' '+cbT+'L'+cbR+' '+cbB+'L'+(cbL+cbR)/2+' '+(cbB+15.5)+'L'+cbL+' '+cbB+'Z',fill:'none',stroke:'#000','stroke-width':2});
  
  
  cbTicks.forEach((v,i)=>{
    const y = cbYOf(v);
    const tk = mk(cb,'line',{x1:cbR,x2:cbR+10,y1:y,y2:y,stroke:'#000','stroke-width':2});
    
    
    const t = mk(cb,'text',{class:'tick',x:cbR+19,y:y+9});
    
    
    t.textContent = cbLabels[i];
  });
  const lab = mk(cb,'text',{class:'tick',transform:'translate(1003,246) rotate(-90)','text-anchor':'middle'});
  
  
  lab.textContent = 'Conservative temperature (°C)';
});
</script>
</body>
</html>
